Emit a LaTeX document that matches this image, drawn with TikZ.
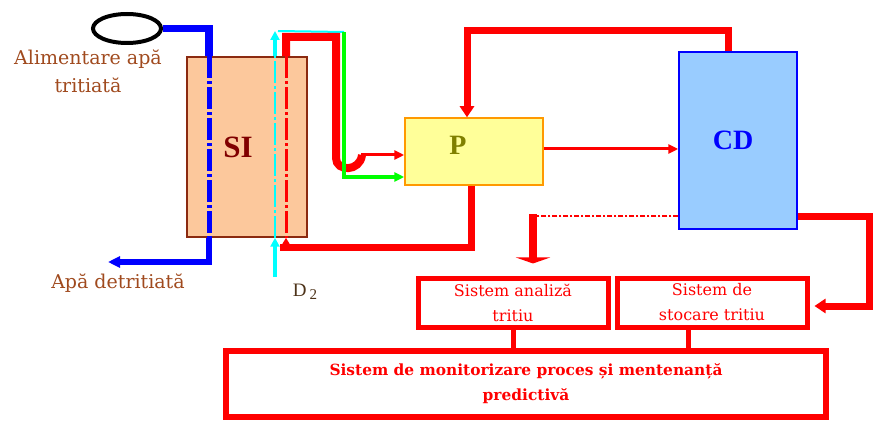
\documentclass[tikz,border=0pt]{standalone}
\usepackage{fontspec}
\setmainfont{Liberation Serif}
\newfontfamily\lblfont{DejaVu Serif}
\usepackage{xcolor}
\usetikzlibrary{positioning, arrows.meta, shapes.geometric}

\definecolor{sifill}{HTML}{FCC89C}
\definecolor{siline}{HTML}{8B2A10}
\definecolor{sitext}{HTML}{800000}
\definecolor{lblbrown}{HTML}{A04A1E}
\definecolor{pfill}{HTML}{FFFF99}
\definecolor{pline}{HTML}{FF9900}
\definecolor{ptext}{HTML}{808000}
\definecolor{cdfill}{HTML}{99CCFF}
\definecolor{cyanline}{HTML}{00FFFF}
\definecolor{greenline}{HTML}{00FF00}
\definecolor{d2col}{HTML}{4D3319}

\begin{document}
\begin{tikzpicture}[x=1pt, y=-1pt,
            block/.style={rectangle, draw, line width=1.5pt, inner sep=0pt},
            big/.style={font=\bfseries\fontsize{28}{28}\selectfont, inner sep=0pt},
            lbl/.style={align=center, text=lblbrown, font=\lblfont\fontsize{19}{28}\selectfont, inner sep=0pt},
            sysbox/.style={rectangle, draw=red, line width=5pt, minimum width=190pt, minimum height=49pt,
                           align=center, text=red, font=\lblfont\fontsize{16}{25}\selectfont, inner sep=0pt},
            dashdotline/.style={dash pattern=on 22pt off 3pt on 3pt off 3pt}
        ]
            \useasboundingbox (0,0) rectangle (873,422);

            % Main units
            \node[block, draw=siline, fill=sifill, minimum width=120pt, minimum height=180pt] (si) at (247,147) {};
            \node[big, text=sitext, font=\bfseries\fontsize{31}{31}\selectfont] (silbl) at (238,147) {SI};
            \node[block, draw=pline, fill=pfill, minimum width=138pt, minimum height=67pt] (p) at (474,151.5) {};
            \node[big, text=ptext] (plbl) at (458,145) {P};
            \node[block, draw=blue, fill=cdfill, minimum width=118pt, minimum height=177pt] (cd) at (738,140.5) {};
            \node[big, text=blue] (cdlbl) at (733,140) {CD};

            % Feed and labels
            \node[draw, ellipse, line width=4pt, minimum width=68pt, minimum height=29pt, inner sep=0pt] (feed) at (127,28.5) {};
            \node[lbl] (feedlbl) at (88,71) {Alimentare apă\\tritiată};
            \node[lbl] (outlbl) at (118,283) {Apă detritiată};
            \node[text=d2col, font=\fontsize{19}{19}\selectfont, inner sep=0pt] (d2lbl) at (305,292) {D\,\raisebox{-3pt}{\fontsize{15}{15}\selectfont 2}};

            % Tritium systems
            \node[sysbox] (ana) at (513,302.5) {Sistem analiză\\tritiu};
            \node[sysbox, right=4pt of ana] (sto) {Sistem de\\stocare tritiu};
            \node[sysbox, line width=6pt, minimum width=600pt, minimum height=66pt,
                  font=\lblfont\bfseries\fontsize{15.4}{25}\selectfont] (mon) at (526,384)
                  {Sistem de monitorizare proces și mentenanță\\predictivă};

            % Pipe positions
            \coordinate (bluex) at (209,0);
            \coordinate (outpt) at (108,262);
            \coordinate (d2in) at (275,277);
            \coordinate (cyantop) at (275,31);
            \coordinate (greentop) at (344,32);
            \coordinate (greeny) at (0,177);
            \coordinate (redx) at (286,0);
            \coordinate (redtop) at (0,37);
            \coordinate (hump) at (336,158);
            \coordinate (redin) at (0,155);
            \coordinate (retY) at (0,248);
            \coordinate (loopY) at (0,31);
            \coordinate (pcdY) at (0,149);
            \coordinate (dashY) at (0,216);
            \coordinate (dropx) at (533,0);
            \coordinate (rx) at (869,0);
            \coordinate (cdY) at (0,217);
            \coordinate (stoY) at (0,306);
            \coordinate (stodown) at ([xshift=-24pt]sto.south);

            % Water (blue)
            \draw[blue, line width=7.5pt] (feed.east) -| (si.north -| bluex);
            \draw[blue, line width=5pt, dashdotline] (si.north -| bluex) -- (si.south -| bluex);
            \draw[blue, line width=5.5pt, -{Triangle[length=12pt, width=11pt]}] (si.south -| bluex) |- (outpt);

            % Deuterium (cyan / green)
            \draw[cyanline, line width=4pt, -{Triangle[length=9pt, width=9pt]}] (d2in) -- (si.south -| d2in);
            \draw[cyanline, line width=2.5pt, dashdotline] (si.south -| d2in) -- (si.north -| d2in);
            \draw[cyanline, line width=4pt, -{Triangle[length=9pt, width=9pt]}] (si.north -| d2in) -- (cyantop);
            \draw[cyanline, line width=2pt] ([xshift=3pt]cyantop) -- (greentop);

            % Red loop through SI
            \draw[red, line width=3pt, dashdotline] (si.north -| redx) -- (si.south -| redx);
            \draw[red, line width=8pt] (si.north -| redx) |- (hump |- redtop) -- (hump)
                .. controls (336,172) and (360,172) .. (362,155);
            \draw[red, line width=3pt, -{Triangle[length=10pt, width=9pt]}] (361,155) -- (p.west |- redin);
            \draw[greenline, line width=4.5pt, -{Triangle[length=10pt, width=9pt]}] (greentop) |- (p.west |- greeny);
            \draw[red, line width=7pt] ([xshift=-3pt]p.south) |- ([xshift=-6pt]redx |- retY);
            \draw[red, line width=3pt, -{Triangle[length=9pt, width=10pt]}] (redx |- retY) -- (si.south -| redx);

            % P and CD
            \draw[red, line width=7pt, -{Triangle[length=11pt, width=14pt]}] ([xshift=-10pt]cd.north)
                |- ([xshift=-7pt]p.north |- loopY) -- ([xshift=-7pt]p.north);
            \draw[red, line width=3pt, -{Triangle[length=10pt, width=9pt]}] (p.east |- pcdY) -- (cd.west |- pcdY);

            % CD to tritium systems
            \draw[red, line width=2pt, dash pattern=on 5pt off 2pt on 2pt off 2pt] (cd.west |- dashY) -- (dropx |- dashY);
            \draw[red, line width=8pt, -{Triangle[length=6pt, width=34pt]}] ([yshift=2pt]dropx |- dashY) -- ([yshift=12pt]ana.north -| dropx);
            \draw[red, line width=7pt, -{Triangle[length=11pt, width=14pt]}] (cd.east |- cdY) -| (rx |- stoY) -- ([xshift=5pt]sto.east |- stoY);
            \draw[red, line width=5pt] (ana.south) -- (mon.north -| ana.south);
            \draw[red, line width=5pt] (stodown) -- (stodown |- mon.north);

        \end{tikzpicture}
\end{document}
